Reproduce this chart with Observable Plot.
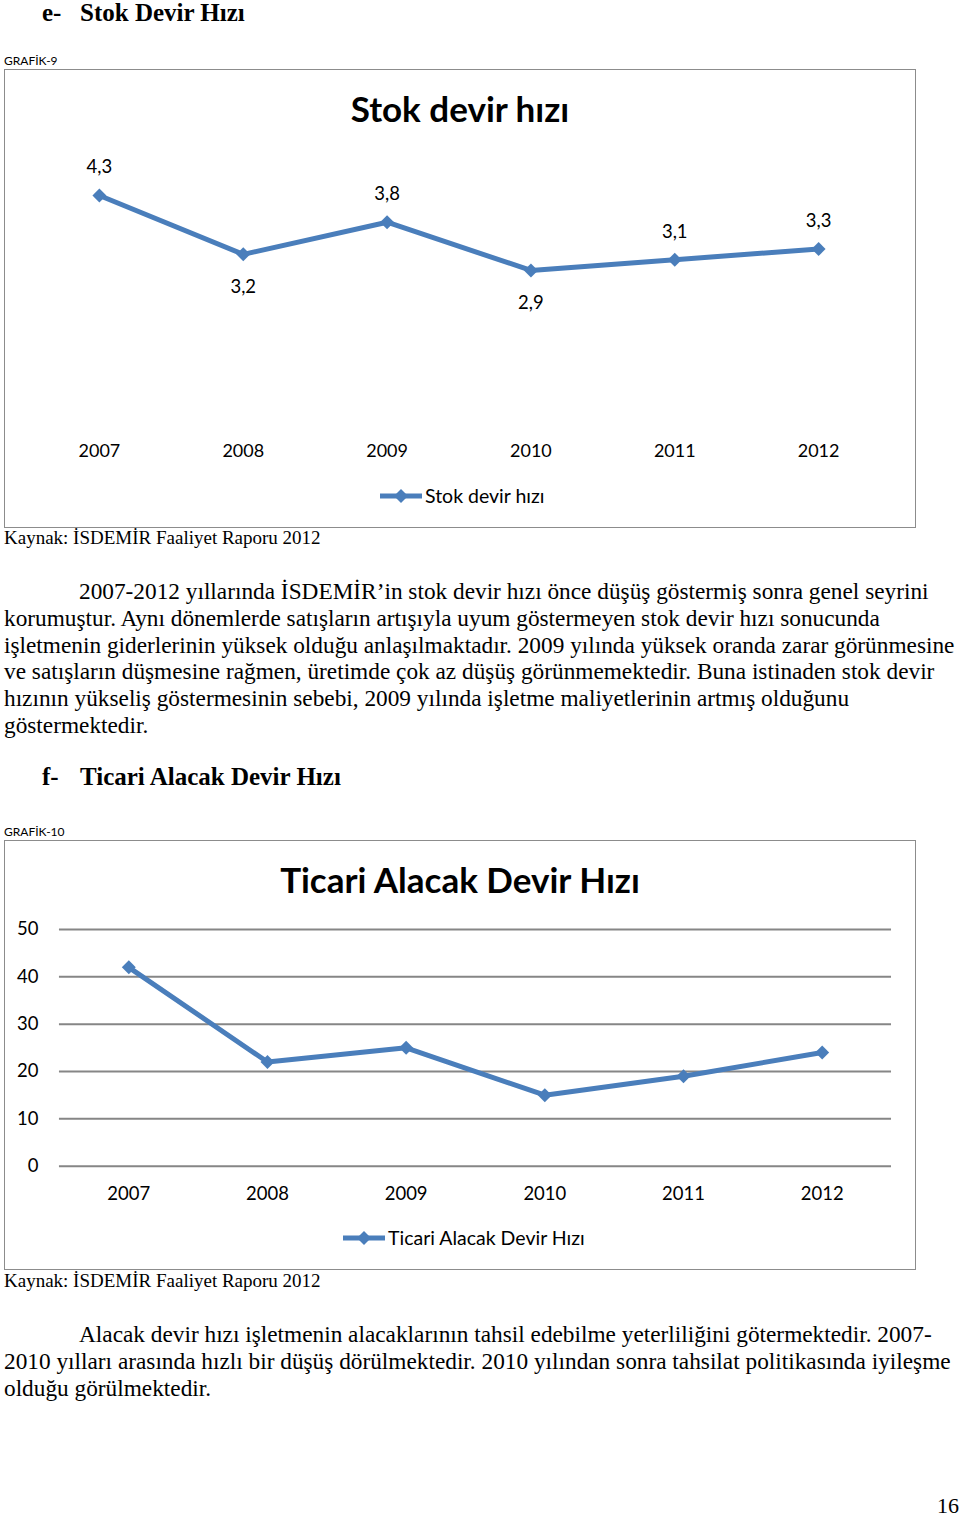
<!DOCTYPE html>
<html><head><meta charset="utf-8">
<script src="https://cdn.jsdelivr.net/npm/d3@7"></script>
<script src="https://cdn.jsdelivr.net/npm/@observablehq/plot@0.6"></script>
<style>
body{margin:0;background:#fff;}
#page{position:relative;width:960px;height:1519px;overflow:hidden;font-family:"Liberation Serif","Times New Roman",serif;color:#000;}
.abs{position:absolute;white-space:nowrap;}
.h{font-weight:bold;font-size:25px;line-height:25px;}
.small{font-family:Lato,sans-serif;font-size:12px;line-height:12px;}
.box{position:absolute;border:1px solid #8c8c8c;box-sizing:border-box;background:#fff;}
.ctitle{font-family:Lato,sans-serif;font-weight:bold;font-size:35px;line-height:35px;width:910px;text-align:center;left:0;}
.leg{font-family:Lato,sans-serif;font-size:19.5px;line-height:20px;display:flex;align-items:center;}
.cap{font-size:19px;line-height:19px;}
.p{font-size:23.3px;line-height:26.8px;}
.chart{position:absolute;}
</style></head>
<body><div id="page">
  <div class="abs h" style="left:42px;top:0px;">e-</div>
  <div class="abs h" style="left:80px;top:0px;">Stok Devir Hızı</div>
  <div class="abs small" style="left:4px;top:55px;">GRAFİK-9</div>
  <div class="box" id="box1" style="left:4px;top:69px;width:912px;height:459px;">
    <div class="abs ctitle" style="top:21px;" id="t1"></div>
    <div class="chart" id="c1" style="left:0;top:61px;"></div>
    <div class="abs leg" style="left:373px;top:416px;" id="l1"></div>
  </div>
  <div class="abs cap" style="left:4px;top:528px;">Kaynak: İSDEMİR Faaliyet Raporu 2012</div>
  <div class="abs p" style="left:4px;top:578px;"><span style="padding-left:75px"></span>2007-2012 yıllarında İSDEMİR’in stok devir hızı önce düşüş göstermiş sonra genel seyrini<br>korumuştur. Aynı dönemlerde satışların artışıyla uyum göstermeyen stok devir hızı sonucunda<br>işletmenin giderlerinin yüksek olduğu anlaşılmaktadır. 2009 yılında yüksek oranda zarar görünmesine<br>ve satışların düşmesine rağmen, üretimde çok az düşüş görünmemektedir. Buna istinaden stok devir<br>hızının yükseliş göstermesinin sebebi, 2009 yılında işletme maliyetlerinin artmış olduğunu<br>göstermektedir.</div>
  <div class="abs h" style="left:42px;top:764px;">f-</div>
  <div class="abs h" style="left:80px;top:764px;">Ticari Alacak Devir Hızı</div>
  <div class="abs small" style="left:4px;top:826px;">GRAFİK-10</div>
  <div class="box" id="box2" style="left:4px;top:840px;width:912px;height:430px;">
    <div class="abs ctitle" style="top:21px;" id="t2"></div>
    <div class="chart" id="c2" style="left:0;top:60px;"></div>
    <div class="abs leg" style="left:336px;top:387px;" id="l2"></div>
  </div>
  <div class="abs cap" style="left:4px;top:1271px;">Kaynak: İSDEMİR Faaliyet Raporu 2012</div>
  <div class="abs p" style="left:4px;top:1321px;"><span style="padding-left:75px"></span>Alacak devir hızı işletmenin alacaklarının tahsil edebilme yeterliliğini götermektedir. 2007-<br>2010 yılları arasında hızlı bir düşüş dörülmektedir. 2010 yılından sonra tahsilat politikasında iyileşme<br>olduğu görülmektedir.</div>
  <div class="abs p" style="left:937px;top:1493px;font-size:22px;">16</div>
</div>
<script>
const years = ["2007","2008","2009","2010","2011","2012"];
const stokValues = [4.3, 3.2, 3.8, 2.9, 3.1, 3.3];
const alacakValues = [42, 22, 25, 15, 19, 24];
const stokTitle = "Stok devir hızı";
const alacakTitle = "Ticari Alacak Devir Hızı";
const yTicks2 = [0, 10, 20, 30, 40, 50];

const blue = "#4A7EBB";
const font = "Lato, sans-serif";

function legendHTML(label) {
  return `<svg width="46" height="16" style="margin-right:1px"><line x1="2" y1="8" x2="44" y2="8" stroke="${blue}" stroke-width="5"/><path d="M23,1L30,8L23,15L16,8Z" fill="${blue}"/></svg><span>${label}</span>`;
}

document.getElementById("t1").textContent = stokTitle;
document.getElementById("t2").textContent = alacakTitle;
document.getElementById("l1").innerHTML = legendHTML(stokTitle);
document.getElementById("l2").innerHTML = legendHTML(alacakTitle);

const stok = years.map((y, i) => ({
  year: y, v: stokValues[i],
  below: i > 0 && i < years.length - 1 && stokValues[i] < stokValues[i-1] && stokValues[i] < stokValues[i+1]
}));
const fmt = v => v.toFixed(1).replace(".", ",");

const c1 = Plot.plot({
  width: 911, height: 340,
  marginLeft: 22, marginRight: 25, marginTop: 26.5, marginBottom: 45.5,
  style: {fontFamily: font, fontSize: "18px", background: "transparent", color: "#000"},
  x: {type: "point", domain: years, padding: 0.5, round: false, label: null, tickSize: 0, tickPadding: 19},
  y: {domain: [0, 5], axis: null},
  marks: [
    Plot.line(stok, {x: "year", y: "v", stroke: blue, strokeWidth: 5}),
    Plot.dot(stok, {x: "year", y: "v", symbol: "diamond2", r: 6.3, fill: blue, stroke: "none"}),
    Plot.text(stok.filter(d => !d.below), {x: "year", y: "v", text: d => fmt(d.v), dy: -28, fontSize: 18.5, fill: "#000"}),
    Plot.text(stok.filter(d => d.below), {x: "year", y: "v", text: d => fmt(d.v), dy: 33, fontSize: 18.5, fill: "#000"})
  ]
});
document.getElementById("c1").appendChild(c1);

const alacak = years.map((y, i) => ({year: y, v: alacakValues[i]}));
const c2 = Plot.plot({
  width: 911, height: 330,
  marginLeft: 54, marginRight: 24, marginTop: 28, marginBottom: 65,
  style: {fontFamily: font, fontSize: "18.5px", background: "transparent", color: "#000"},
  x: {type: "point", domain: years, padding: 0.5, round: false, label: null, tickSize: 0, tickPadding: 21},
  y: {domain: [0, 50], ticks: yTicks2, label: null, tickSize: 0, tickPadding: 21},
  marks: [
    Plot.gridY(yTicks2, {stroke: "#868686", strokeOpacity: 1, strokeWidth: 2}),
    Plot.line(alacak, {x: "year", y: "v", stroke: blue, strokeWidth: 5}),
    Plot.dot(alacak, {x: "year", y: "v", symbol: "diamond2", r: 6.3, fill: blue, stroke: "none"})
  ]
});
document.getElementById("c2").appendChild(c2);
</script>
</body></html>
